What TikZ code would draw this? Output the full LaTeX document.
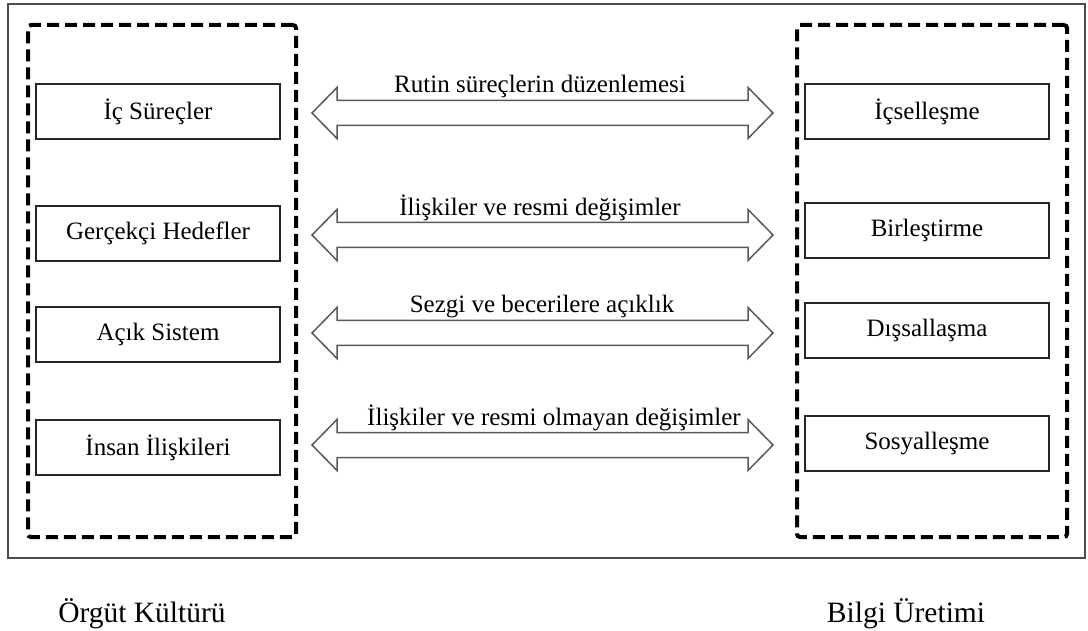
\documentclass[tikz,border=0pt]{standalone}
\usepackage{fontspec}
\setmainfont{Liberation Serif}
\usetikzlibrary{calc}
\begin{document}
\begin{tikzpicture}[x=1pt,y=-1pt,
  frame/.style={draw=black!70, line width=1.5pt},
  group/.style={draw=black, line width=4pt, dash pattern=on 12pt off 6pt, rounded corners=3pt, inner sep=0pt},
  item/.style={draw=black!85, line width=1.3pt, minimum width=244pt, minimum height=55pt, inner sep=0pt, font=\fontsize{25}{30}\selectfont},
  link/.style={draw=black!65, line width=1.5pt, line join=miter},
  linklabel/.style={anchor=base, inner sep=0pt, font=\fontsize{25}{30}\selectfont},
  caption/.style={anchor=base, inner sep=0pt, font=\fontsize{29.5}{34}\selectfont}]
\useasboundingbox (0,0) rectangle (1088,631);
\fill[white] (0,0) rectangle (1088,631);
% outer frame
\draw[frame] (8,4) rectangle (1085,558);
% dashed groups
\node[group, minimum width=268pt, minimum height=512pt] (org) at (162,281) {};
\node[group, minimum width=270pt, minimum height=512pt] (bil) at (932,281) {};
% left items
\node[item] (a1) at (158,111.5) {İç Süreçler};
\node[item] (a2) at (158,233.5) {Gerçekçi Hedefler};
\node[item] (a3) at (158,334.5) {Açık Sistem};
\node[item] (a4) at (158,447.5) {İnsan İlişkileri};
% right items
\node[item] (b1) at (927,111.5) {İçselleşme};
\node[item] (b2) at (927,230.5) {Birleştirme};
\node[item] (b3) at (927,330.5) {Dışsallaşma};
\node[item] (b4) at (927,443.5) {Sosyalleşme};
% arrow tips
\coordinate (l1) at (312,113); \coordinate (r1) at (773,113);
\coordinate (l2) at (312,235); \coordinate (r2) at (773,235);
\coordinate (l3) at (312,333); \coordinate (r3) at (773,333);
\coordinate (l4) at (312,445); \coordinate (r4) at (773,445);
\foreach \i in {1,2,3,4}{
  \draw[link] (l\i) -- ++(25,-25.5) -- ++(0,13) -- ($(r\i)+(-25,-12.5)$) -- ++(0,-13) -- (r\i)
     -- ++(-25,25.5) -- ++(0,-13) -- ($(l\i)+(25,12.5)$) -- ++(0,13) -- cycle;
}
% arrow labels
\node[linklabel] (t1) at (540,93) {Rutin süreçlerin düzenlemesi};
\node[linklabel] (t2) at (540,216) {İlişkiler ve resmi değişimler};
\node[linklabel] (t3) at (542,313) {Sezgi ve becerilere açıklık};
\node[linklabel] (t4) at (554,425) {İlişkiler ve resmi olmayan değişimler};
% captions
\node[caption] (c1) at (142,622) {Örgüt Kültürü};
\node[caption] (c2) at (906,622) {Bilgi Üretimi};
\end{tikzpicture}
\end{document}
